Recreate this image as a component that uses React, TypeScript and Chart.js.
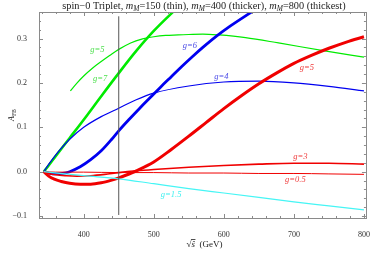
import React, { useEffect, useRef } from "react";
import { Chart, registerables } from "chart.js";

Chart.register(...registerables);

// ---- axes ----
const xRange = [336.2, 802.8];
const yRange = [-0.1043, 0.3597];
const xTicks = [400, 500, 600, 700, 800];
const yTicks = [-0.1, 0.0, 0.1, 0.2, 0.3];
const xMinorStep = 20;
const yMinorStep = 0.02;

// ---- vertical marker ----
const vlineX = [450, 450];
const vlineY = [-0.0975, 0.35];

// ---- curves ----
const greenThinX = [381, 390, 400, 412, 425, 437, 450, 467, 484, 500, 517, 535, 550, 570, 593, 631, 678, 744, 800];
const greenThinY = [0.182, 0.199, 0.2155, 0.2325, 0.248, 0.2615, 0.2755, 0.290, 0.299, 0.304, 0.307, 0.308, 0.309, 0.310, 0.308, 0.302, 0.290, 0.272, 0.258];

const greenThickX = [343, 350, 360, 380, 400, 425, 450, 475, 500, 525, 550];
const greenThickY = [0, 0.014, 0.035, 0.076, 0.117, 0.170, 0.222, 0.272, 0.317, 0.356, 0.392];

const blueThinX = [343, 348, 355, 366, 380, 400, 425, 450, 475, 500, 550, 600, 650, 700, 750, 800];
const blueThinY = [0, 0.012, 0.027, 0.049, 0.073, 0.100, 0.124, 0.143, 0.162, 0.177, 0.193, 0.202, 0.204, 0.200, 0.192, 0.182];

const blueThickX = [343, 350, 360, 370, 380, 395, 410, 425, 440, 450, 465, 480, 495, 510, 525, 540, 555, 570, 590, 610, 630, 660];
const blueThickY = [0, -0.003, -0.005, -0.004, 0.0, 0.011, 0.027, 0.047, 0.073, 0.092, 0.118, 0.143, 0.167, 0.191, 0.214, 0.237, 0.259, 0.280, 0.306, 0.329, 0.350, 0.380];

const redThickX = [343, 350, 358, 368, 380, 395, 410, 425, 440, 450, 460, 475, 500, 525, 550, 575, 600, 625, 650, 675, 700, 725, 750, 775, 800];
const redThickY = [0, -0.010, -0.017, -0.022, -0.026, -0.028, -0.028, -0.025, -0.019, -0.014, -0.008, 0.002, 0.022, 0.050, 0.080, 0.111, 0.142, 0.171, 0.198, 0.222, 0.244, 0.262, 0.278, 0.292, 0.304];

const redMidX = [343, 350, 360, 375, 390, 410, 430, 450, 475, 500, 550, 600, 650, 700, 750, 800];
const redMidY = [0, -0.004, -0.007, -0.009, -0.010, -0.009, -0.006, -0.002, 0.002, 0.005, 0.010, 0.014, 0.017, 0.019, 0.019, 0.017];

const redThinX = [343, 360, 400, 450, 500, 550, 600, 650, 700, 750, 800];
const redThinY = [0, -0.001, -0.001, -0.002, -0.002, -0.003, -0.003, -0.004, -0.004, -0.005, -0.006];

const cyanX = [343, 400, 450, 500, 550, 600, 650, 700, 750, 800];
const cyanY = [0, -0.009, -0.016, -0.027, -0.038, -0.048, -0.058, -0.068, -0.077, -0.086];

// ---- curve labels ----
const labelTexts = ["g=5", "g=7", "g=6", "g=4", "g=5", "g=3", "g=0.5", "g=1.5"];
const labelX = [419.5, 423.5, 551.5, 596.5, 718.5, 709.2, 702.1, 524.8];
const labelY = [0.274, 0.209, 0.283, 0.213, 0.234, 0.033, -0.019, -0.052];
const labelColors = ["#4ee04e", "#4ee04e", "#4a4ae6", "#4a4ae6", "#ef3a3a", "#ef3a3a", "#ef3a3a", "#3ef0f0"];

const SERIF = '"Liberation Serif", "DejaVu Serif", serif';

const GREEN = "rgb(0,235,0)";
const BLUE = "rgb(0,0,240)";
const RED = "rgb(240,0,0)";
const CYAN = "rgb(70,245,245)";

type Seg = { t: string; italic?: boolean; sub?: boolean };

function drawRich(ctx: CanvasRenderingContext2D, segs: Seg[], x: number, y: number, size: number) {
  const fontFor = (s: Seg) => `${s.italic ? "italic " : ""}${s.sub ? size * 0.72 : size}px ${SERIF}`;
  let total = 0;
  const widths: number[] = [];
  for (const s of segs) {
    ctx.font = fontFor(s);
    const w = ctx.measureText(s.t).width;
    widths.push(w);
    total += w;
  }
  let cx = x - total / 2;
  ctx.textAlign = "left";
  ctx.textBaseline = "middle";
  segs.forEach((s, i) => {
    ctx.font = fontFor(s);
    ctx.fillText(s.t, cx, y + (s.sub ? size * 0.28 : 0));
    cx += widths[i];
  });
}

const decorPlugin = {
  id: "decor",
  afterDatasetsDraw(chart: any) {
    const ctx: CanvasRenderingContext2D = chart.ctx;
    const { left, right, top, bottom } = chart.chartArea;
    const xs = chart.scales.x;
    const ys = chart.scales.y;
    ctx.save();
    // frame
    ctx.strokeStyle = "#8a8a8a";
    ctx.lineWidth = 1;
    ctx.strokeRect(Math.round(left) + 0.5, Math.round(top) + 0.5, Math.round(right - left), Math.round(bottom - top));
    // ticks
    ctx.beginPath();
    const major = 4, minor = 2;
    for (let v = Math.ceil(xRange[0] / xMinorStep) * xMinorStep; v <= xRange[1]; v += xMinorStep) {
      const px = Math.round(xs.getPixelForValue(v)) + 0.5;
      const len = xTicks.includes(v) ? major : minor;
      ctx.moveTo(px, bottom); ctx.lineTo(px, bottom - len);
      ctx.moveTo(px, top); ctx.lineTo(px, top + len);
    }
    for (let k = Math.ceil(yRange[0] / yMinorStep); k * yMinorStep <= yRange[1]; k++) {
      const v = k * yMinorStep;
      const py = Math.round(ys.getPixelForValue(v)) + 0.5;
      const isMajor = k % 5 === 0;
      const len = isMajor ? major : minor;
      ctx.moveTo(left, py); ctx.lineTo(left + len, py);
      ctx.moveTo(right, py); ctx.lineTo(right - len, py);
    }
    ctx.stroke();

    // curve labels
    labelTexts.forEach((t, i) => {
      ctx.fillStyle = labelColors[i];
      ctx.font = `italic 8.5px ${SERIF}`;
      ctx.textAlign = "center";
      ctx.textBaseline = "middle";
      ctx.fillText(t, xs.getPixelForValue(labelX[i]), ys.getPixelForValue(labelY[i]));
    });

    // title
    ctx.fillStyle = "#222";
    const cxTitle = (left + right) / 2 + 1.5;
    drawRich(ctx, [
      { t: "spin\u22120 Triplet, " },
      { t: "m", italic: true }, { t: "M", italic: true, sub: true }, { t: "=150 (thin), " },
      { t: "m", italic: true }, { t: "M", italic: true, sub: true }, { t: "=400 (thicker), " },
      { t: "m", italic: true }, { t: "M", italic: true, sub: true }, { t: "=800 (thickest)" },
    ], cxTitle, 6, 10.3);

    // x title
    const xt = (left + right) / 2 + 2;
    const yt = 245;
    ctx.font = `9px ${SERIF}`;
    ctx.textBaseline = "middle";
    ctx.textAlign = "left";
    const sqrtW = ctx.measureText("\u221A").width;
    ctx.font = `italic 9px ${SERIF}`;
    const sW = ctx.measureText("\u015D").width;
    ctx.font = `9px ${SERIF}`;
    const restW = ctx.measureText("  (GeV)").width;
    let x0 = xt - (sqrtW + sW + restW) / 2;
    ctx.fillText("\u221A", x0, yt);
    ctx.font = `italic 9px ${SERIF}`;
    ctx.fillText("\u015D", x0 + sqrtW, yt);
    ctx.strokeStyle = "#222";
    ctx.lineWidth = 0.8;
    ctx.beginPath();
    ctx.moveTo(x0 + sqrtW - 0.5, yt - 5.5);
    ctx.lineTo(x0 + sqrtW + sW + 0.5, yt - 5.5);
    ctx.stroke();
    ctx.font = `9px ${SERIF}`;
    ctx.fillText("  (GeV)", x0 + sqrtW + sW, yt);

    // y title
    ctx.save();
    ctx.translate(12, (top + bottom) / 2);
    ctx.rotate(-Math.PI / 2);
    drawRich(ctx, [{ t: "A", italic: true }, { t: "FB", sub: true }], 0, 0, 8);
    ctx.restore();

    ctx.restore();
  },
};

function series(xs: number[], ys: number[], color: string, width: number) {
  return {
    data: xs.map((x, i) => ({ x, y: ys[i] })),
    borderColor: color,
    borderWidth: width,
    pointRadius: 0,
    fill: false,
    cubicInterpolationMode: "monotone" as const,
    clip: 0,
  };
}

export default function App() {
  const ref = useRef<HTMLCanvasElement | null>(null);
  useEffect(() => {
    if (!ref.current) return;
    const chart = new Chart(ref.current, {
      type: "line",
      data: {
        datasets: [
          { ...series(vlineX, vlineY, "#555555", 1), cubicInterpolationMode: "default" as const, tension: 0 },
          series(cyanX, cyanY, CYAN, 1.2),
          series(redThinX, redThinY, RED, 1),
          series(redMidX, redMidY, RED, 1.6),
          series(redThickX, redThickY, RED, 3),
          series(blueThinX, blueThinY, BLUE, 1.2),
          series(blueThickX, blueThickY, BLUE, 2.8),
          series(greenThinX, greenThinY, GREEN, 1.2),
          series(greenThickX, greenThickY, GREEN, 2.6),
        ] as any,
      },
      options: {
        animation: false,
        responsive: false,
        maintainAspectRatio: false,
        layout: { padding: { top: 12, right: 6, left: 0, bottom: 0 } },
        plugins: { legend: { display: false }, title: { display: false }, tooltip: { enabled: false } },
        scales: {
          x: {
            type: "linear",
            min: xRange[0],
            max: xRange[1],
            afterBuildTicks: (s: any) => { s.ticks = xTicks.map((v) => ({ value: v })); },
            afterFit: (s: any) => { s.height = 40; },
            grid: { display: false },
            border: { display: false },
            ticks: {
              padding: 4,
              autoSkip: false,
              maxRotation: 0,
              color: "#333",
              font: { family: SERIF, size: 8 },
              callback: (v: any) => String(v),
            },
          },
          y: {
            type: "linear",
            min: yRange[0],
            max: yRange[1],
            afterBuildTicks: (s: any) => { s.ticks = yTicks.map((v) => ({ value: v })); },
            afterFit: (s: any) => { s.width = 39; },
            grid: { display: false },
            border: { display: false },
            ticks: {
              padding: 4,
              autoSkip: false,
              color: "#333",
              font: { family: SERIF, size: 8 },
              callback: (v: any) => (v < -1e-9 ? "\u2212" : "") + Math.abs(v).toFixed(1),
            },
          },
        },
      },
      plugins: [decorPlugin],
    });
    return () => chart.destroy();
  }, []);
  return (
    <div style={{ position: "fixed", left: 0, top: 0, width: 374, height: 258, background: "#fff" }}>
      <canvas ref={ref} width={374} height={258} style={{ display: "block" }} />
    </div>
  );
}
